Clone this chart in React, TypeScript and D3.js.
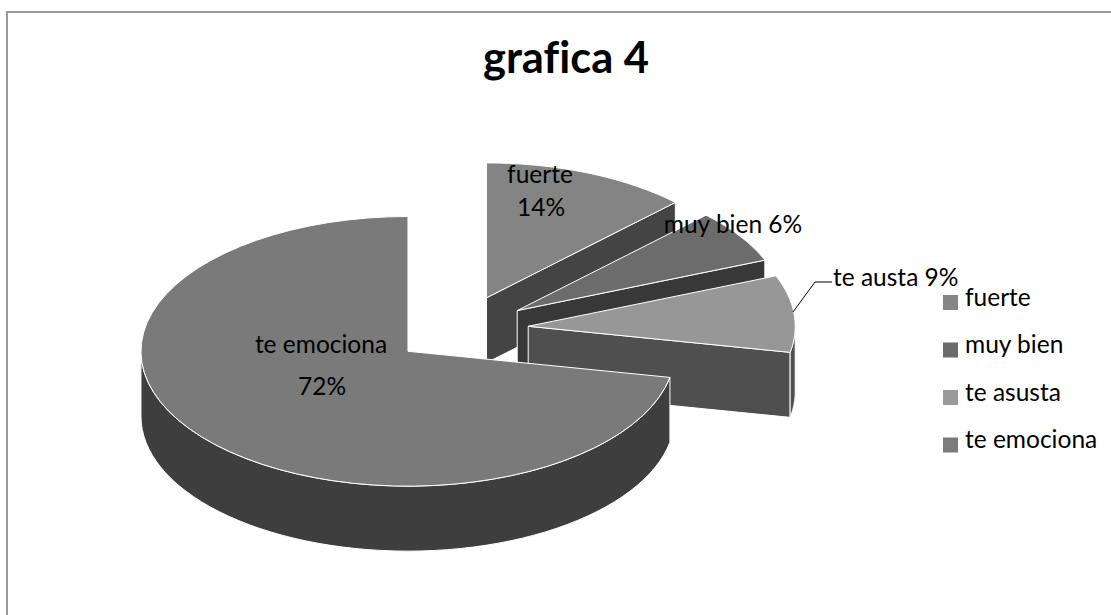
import * as d3 from "d3"

const categories = ["fuerte", "muy bien", "te asusta", "te emociona"]
// share of the circle each slice really occupies in the picture
const sliceShares = [12.5, 6.4, 9.2, 71.9]
const topColors = ["#848484", "#6c6c6c", "#979797", "#7a7a7a"]
const wallColors = ["#444444", "#383838", "#4f4f4f", "#3e3e3e"]
const legendColors = ["#858585", "#6b6b6b", "#9a9a9a", "#7b7b7b"]

const width = 1111
const height = 615
const font = "Lato, 'Open Sans', sans-serif"

// Pie geometry
const pieCx = 460.5
const pieCy = 329.5
const radius = 267
const squash = 0.505
const depth = 65
const explode = 68

const pie = d3.pie<number>().sort(null)
const slices = pie(sliceShares)

const line = d3.line<[number, number]>()

const onEllipse = (cx: number, cy: number, a: number): [number, number] => [
    cx + radius * Math.sin(a),
    cy - radius * squash * Math.cos(a),
]

const sampleArc = (cx: number, cy: number, a0: number, a1: number) =>
    d3.range(0, 61).map(i => onEllipse(cx, cy, a0 + ((a1 - a0) * i) / 60))

export default function App() {
    const legendY = d3.scalePoint<string>().domain(categories).range([302.5, 445])

    return (
        <svg
            width={width}
            height={height}
            style={{ position: "absolute", left: 0, top: 0, background: "#fff", fontVariantLigatures: "none" }}
        >
            {/* only the top and left edges of the chart frame are in the picture */}
            <path d={`M7,${height}V12H${width}`} fill="none" stroke="#999" strokeWidth={2} />

            <text x={566} y={73} textAnchor="middle" fontFamily={font} fontWeight={700} fontSize={43.5}>
                grafica 4
            </text>

            {slices.map((s, i) => {
                const mid = (s.startAngle + s.endAngle) / 2
                const cx = pieCx + explode * Math.sin(mid)
                const cy = pieCy - explode * squash * Math.cos(mid)
                const a0 = s.startAngle
                const a1 = s.endAngle

                // outer wall only where the rim faces the viewer
                const w0 = Math.max(a0, Math.PI / 2)
                const w1 = Math.min(a1, (3 * Math.PI) / 2)
                const rim = sampleArc(cx, cy, w0, w1)
                const rimDown = rim.map(([x, y]) => [x, y + depth] as [number, number]).reverse()

                const endPt = onEllipse(cx, cy, a1)
                const top: [number, number][] = [[cx, cy], ...sampleArc(cx, cy, a0, a1)]

                return (
                    <g key={categories[i]} stroke="#fff" strokeWidth={1} strokeLinejoin="round">
                        {a1 < Math.PI && (
                            <path
                                fill={wallColors[i]}
                                d={
                                    line([
                                        [cx, cy],
                                        endPt,
                                        [endPt[0], endPt[1] + depth],
                                        [cx, cy + depth],
                                    ]) + "Z"
                                }
                            />
                        )}
                        {w1 > w0 && <path fill={wallColors[i]} d={line([...rim, ...rimDown]) + "Z"} />}
                        <path fill={topColors[i]} d={line(top) + "Z"} />
                    </g>
                )
            })}

            <g fontFamily={font} fontSize={24.5} fill="#000">
                <text x={540} y={183} textAnchor="middle">fuerte</text>
                <text x={541} y={216} textAnchor="middle">14%</text>
                <text x={733} y={233} textAnchor="middle">muy bien 6%</text>
                <text x={833} y={286}>te austa 9%</text>
                <text x={321} y={353} textAnchor="middle">te emociona</text>
                <text x={322} y={395} textAnchor="middle">72%</text>
            </g>
            <path d="M793,312L815,282H832" fill="none" stroke="#000" strokeWidth={1} />

            <g fontFamily={font} fontSize={24.5} fill="#000">
                {categories.map((c, i) => (
                    <g key={c} transform={`translate(943,${legendY(c)})`}>
                        <rect x={0} y={-7.5} width={15} height={15} fill={legendColors[i]} />
                        <text x={22} y={3}>{c}</text>
                    </g>
                ))}
            </g>
        </svg>
    )
}
